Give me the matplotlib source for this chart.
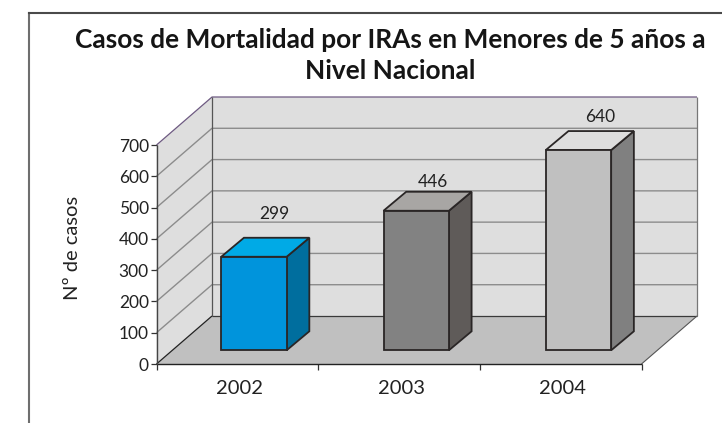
import matplotlib
matplotlib.use("Agg")
import matplotlib.pyplot as plt
from matplotlib.patches import Polygon
from matplotlib.lines import Line2D

title = "Casos de Mortalidad por IRAs en Menores de 5 años a\nNivel Nacional"
ylabel = "Nº de casos"
years = ["2002", "2003", "2004"]
values = [299, 446, 640]
yticks = [0, 100, 200, 300, 400, 500, 600, 700]
front = ["#0094DC", "#828282", "#C0C0C0"]
top = ["#00AAE6", "#A8A6A4", "#DEDEDE"]
side = ["#006E9E", "#5F5B59", "#808080"]
label_offsets = [(-1.5, 11.5), (-4.5, 1.0), (-1, 4.5)]

W, H = 722, 423
plt.rcParams["font.family"] = ["Lato", "DejaVu Sans"]
fig = plt.figure(figsize=(W / 100, H / 100), dpi=100, facecolor="white")

L, R, T, B = 156.5, 641.5, 145.0, 364.0
ax = fig.add_axes([L / W, 1 - B / H, (R - L) / W, (B - T) / H])
ax.set_xlim(0, 3)
ax.set_ylim(0, 700)
ax.patch.set_visible(False)
for s in ax.spines.values():
    s.set_visible(False)

# oblique depth of the plot box and of the bars, in data units
px_x = 3 / (R - L)
px_y = 700 / (B - T)
DX, DY = 55.5 * px_x, 48 * px_y
bdx, bdy = 22.7 * px_x, 19 * px_y
gx, gy = 16.6 * px_x, 13.7 * px_y
bw = 65.4 * px_x
edge = "#2A2626"
grid = "#8C8C8C"

poly = lambda pts, fc, z=1, ec="none", lw=0: ax.add_patch(
    Polygon(pts, closed=True, facecolor=fc, edgecolor=ec, linewidth=lw,
            zorder=z, clip_on=False, joinstyle="miter"))
line = lambda xs, ys, c, lw, z=2: ax.plot(xs, ys, color=c, lw=lw, zorder=z,
                                          clip_on=False, solid_capstyle="butt")

# walls and floor
poly([(DX, DY), (3 + DX, DY), (3 + DX, 700 + DY), (DX, 700 + DY)], "#DEDEDE")
poly([(0, 0), (DX, DY), (DX, 700 + DY), (0, 700)], "#DEDEDE")
poly([(0, 0), (3, 0), (3 + DX, DY), (DX, DY)], "#C0C0C0")

for v in yticks[1:-1]:
    line([0, DX, 3 + DX], [v, v + DY, v + DY], grid, 1.0)
line([0, DX, 3 + DX], [700, 700 + DY, 700 + DY], "#6E5A82", 0.9)
line([DX, DX], [DY, 700 + DY], "#555555", 0.9)
line([3 + DX, 3 + DX], [DY, 700 + DY], "#777777", 0.9)
line([DX, 3 + DX], [DY, DY], "#3A3A3A", 0.9)
line([3, 3 + DX], [0, DY], "#555555", 0.8)
line([0, DX], [0, DY], "#222222", 0.9)

# bars
for i, v in enumerate(values):
    x0 = i + 0.5 - bw / 2 + gx + (i * 0.6) * px_x
    x1 = x0 + bw
    y0 = gy
    y1 = gy + v
    kw = dict(ec=edge, lw=1.3, z=5)
    poly([(x1, y0), (x1 + bdx, y0 + bdy), (x1 + bdx, y1 + bdy), (x1, y1)], side[i], **kw)
    poly([(x0, y1), (x1, y1), (x1 + bdx, y1 + bdy), (x0 + bdx, y1 + bdy)], top[i], **kw)
    poly([(x0, y0), (x1, y0), (x1, y1), (x0, y1)], front[i], **kw)
    ax.annotate(str(v), (x0 + bw / 2 + bdx, y1 + bdy), xytext=label_offsets[i],
                textcoords="offset points", ha="center", va="bottom",
                fontsize=12.5, color="#222222", zorder=6, annotation_clip=False)

# axes
line([0, 3], [0, 0], "#222222", 1.0, 4)
line([0, 0], [0, 700], "#444444", 1.0, 4)
ax.set_xticks([0, 1, 2, 3])
ax.set_xticklabels([])
ax.set_yticks(yticks)
ax.tick_params(axis="both", length=4, width=0.9, color="#333333", pad=1.5,
               labelsize=12.5, labelcolor="#222222")
for i, y in enumerate(years):
    ax.annotate(y, (i + 0.5, 0), xytext=(1.5, -11.5), textcoords="offset points",
                ha="center", va="top", fontsize=14.5, color="#222222", annotation_clip=False)

fig.text(72.5 / W, 1 - 248 / H, ylabel, rotation=90, ha="center", va="center",
         fontsize=14.5, color="#222222")
fig.text(390.5 / W, 1 - 55.5 / H, title, ha="center", va="center", fontsize=18.95,
         fontweight="bold", color="#151515", linespacing=1.38)

# outer frame, cropped at the right and bottom edges
fig.add_artist(Line2D([29 / W, 29 / W], [0, 1 - 13.5 / H],
                      color="#6E6E6E", lw=1.5, solid_capstyle="projecting"))
fig.add_artist(Line2D([29 / W, 1], [1 - 13.5 / H, 1 - 13.5 / H],
                      color="#4A4A4A", lw=1.5, solid_capstyle="projecting"))
fig.savefig("out.png", dpi=100)
